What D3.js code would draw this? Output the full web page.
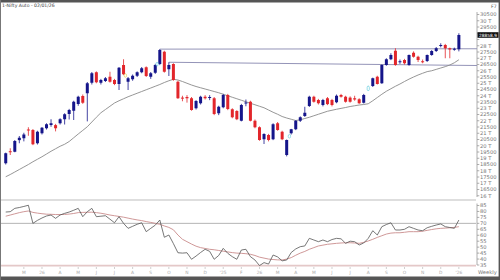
<!DOCTYPE html>
<html>
<head>
<meta charset="utf-8">
<script src="https://cdn.jsdelivr.net/npm/d3@7"></script>
<style>
  body { margin: 0; background: #fff; }
  svg { display: block; font-family: "DejaVu Sans", sans-serif; }
</style>
</head>
<body>
<div id="chart"></div>
<script>
// weekly candles, Nifty Auto, ~Feb 2024 .. Jan 2026 (index 0..100)
const opens = [18600,19560,19520,20450,20600,21300,21260,20200,21000,21400,
  21660,21650,21800,22120,22540,22800,23340,23980,24200,25040,
  25880,25040,25180,25520,25260,24940,26460,25120,25320,25600,
  25880,26280,25520,25840,26540,27520,26120,26540,25120,23850,
  23900,23800,23000,23400,23920,23850,23800,22600,23080,24060,
  22920,22780,22000,23400,23520,22000,21480,20520,20860,20520,
  21800,21120,19260,21000,21320,22000,22380,23180,23920,23660,
  23260,23800,23660,23480,24060,23920,23850,23800,23720,23440,
  24420,24780,25520,25000,26460,26920,27600,26700,26860,26460,
  27440,27120,26760,26780,27260,27580,27980,28060,27800,27700,
  27720];
const highs = [19450,19800,20460,20780,21040,21480,21340,21200,21500,21800,
  22120,21750,22200,22600,22950,23600,24000,24100,25100,25900,
  25950,25350,25500,25920,25350,26300,26920,25500,25700,25950,
  26300,26350,25900,26550,27740,27600,26680,26600,25200,24000,
  24050,23900,23650,24000,24050,24050,23900,23200,24150,24150,
  23000,22850,23350,23700,23600,22100,21550,21000,20950,21800,
  21900,21200,20500,21350,22050,22350,23120,24000,24000,23750,
  23750,23900,23750,24100,24150,24000,23950,24000,23800,24150,
  24800,25450,25600,26500,27000,27400,27800,26900,26950,27300,
  27550,27200,26900,27300,27650,27900,28200,28150,27850,27850,
  29000];
const lows = [18500,19260,19480,20200,20350,20800,20050,20100,20900,21300,
  21520,21150,21700,21700,22100,22060,23200,23350,21950,24900,
  25000,24900,25100,25050,24850,24460,25650,24460,25200,25500,
  25800,25500,25350,25750,26450,25850,25580,25200,23750,23560,
  23450,22800,22900,23300,23700,23650,22450,22450,23000,22850,
  22200,22050,21950,23160,21950,21400,20400,20140,20350,20450,
  21200,20450,19150,20900,21250,21900,22300,23100,23450,23300,
  23150,23250,23150,23400,23850,23450,23450,23600,23350,23380,
  24380,24700,24900,24950,26400,26850,26400,26550,26500,26400,
  27050,26700,26600,26700,27200,27500,27870,27000,27000,27600,
  27550];
const closes = [19400,19500,20380,20640,20900,21250,20120,21120,21440,21720,
  21800,21400,22120,22520,22860,23520,23920,23440,25000,25800,
  25080,25260,25400,25120,24940,26240,25720,25400,25600,25880,
  26200,25580,25800,26460,27660,25920,26460,25260,23800,23800,
  23800,22860,23580,23920,23800,23900,22540,23120,24060,22940,
  22280,22120,23260,23460,22000,21480,20460,20940,20460,21720,
  21260,20520,20460,21320,22000,22280,22640,23920,23520,23400,
  23660,23330,23260,24000,23920,23520,23520,23700,23400,24060,
  24760,25400,24940,26460,26920,27260,26460,26760,26600,27260,
  27120,26860,26700,27260,27580,27800,28060,27800,27700,27760,
  28860];
const hollowWeeks = [80];

// moving average (grey line)
const maValues = [17520,17700,17900,18100,18300,18500,18720,18920,19120,19340,
  19560,19760,19960,20120,20340,20640,20940,21230,21520,21900,
  22280,22640,22900,23160,23420,23600,23760,23920,24060,24200,
  24340,24480,24620,24760,24900,25060,25200,25316,25260,25140,
  25000,24860,24740,24640,24540,24440,24340,24240,24120,24000,
  23880,23760,23640,23520,23400,23280,23160,23040,22860,22680,
  22520,22340,22220,22120,22020,22080,22180,22280,22400,22520,
  22640,22760,22840,22920,22990,23060,23140,23200,23260,23300,
  23360,23600,23860,24120,24360,24560,24760,24940,25140,25330,
  25500,25660,25800,25930,26000,26110,26220,26330,26460,26640,
  26880];

// RSI and its average
const rsiValues = [79.5,79.8,82.6,83.3,84.2,85.2,70.0,72.5,74.5,76.2,
  77.0,74.2,77.0,78.4,79.5,81.0,82.6,75.6,79.8,82.6,
  75.6,76.0,76.4,73.5,70.5,75.6,70.0,65.8,67.5,69.2,
  70.5,63.0,65.8,68.5,72.8,58.3,60.2,53.0,45.3,45.0,
  45.3,39.8,42.5,45.5,48.2,46.5,39.8,43.0,49.0,44.8,
  42.0,39.8,47.6,48.2,42.0,39.2,34.5,37.0,35.8,43.4,
  41.8,38.5,39.2,45.5,48.5,50.4,51.0,57.4,56.0,54.6,
  56.0,54.6,56.4,57.4,57.0,53.2,55.0,54.6,51.8,53.5,
  57.4,63.8,60.2,67.2,69.0,70.5,64.4,64.4,65.0,67.2,
  65.8,64.4,63.8,66.3,67.5,68.6,69.5,67.2,66.5,65.8,
  72.8];
const rsiAvg = [76.0,77.0,78.0,79.0,79.8,80.4,79.2,78.6,78.1,77.7,
  77.6,77.4,77.4,77.5,77.8,78.3,79.0,79.2,79.3,79.4,
  79.0,78.5,77.8,77.0,76.4,75.8,75.2,74.4,73.6,72.9,
  72.3,71.5,70.8,70.0,69.2,67.8,66.6,64.6,60.2,56.6,
  54.6,52.6,50.8,49.6,48.9,48.2,47.8,47.2,46.6,46.0,
  45.4,45.0,44.8,44.5,44.0,43.0,41.6,40.8,40.0,39.6,
  39.3,39.2,40.0,41.2,43.2,45.0,46.4,48.2,49.6,51.0,
  51.7,52.4,52.8,53.2,53.5,53.7,53.7,53.5,53.2,54.0,
  55.2,56.6,58.2,59.6,61.0,61.8,62.1,62.1,62.5,63.0,
  63.0,63.0,63.4,64.1,64.8,65.4,65.8,66.0,66.3,66.6,
  67.2];

// trend lines [week, price]
const resistTop = [[34, 27730], [104, 27760]];
const resistLow = [[36, 26680], [104, 26420]];
// gap markers [week, price]
const gapMarks = [[26.4, 25620], [33.4, 26530], [62.6, 20760]];
const gapColors = ["#e6d050", "#6fd0e0", "#6fd0e0"];

// time axis labels (every 4 weeks)
const xLabelWeeks = [4,8,12,16,20,24,28,32,36,40,44,48,52,56,60,64,68,72,76,80,84,88,92,96,100];
const xLabelText = ["M","26","A","M","J","J","A","S","O","N","D","'25","F","26","M","A","M","J","J","A","S","O","N","D","'26"];

const priceTicks = d3.range(16000, 30501, 500);
const rsiTicks = d3.range(35, 86, 5);
const lastPriceText = "28858.9";

const W = 500, H = 280;
const svg = d3.select("#chart").append("svg")
  .attr("width", W).attr("height", H);

const x = d3.scaleLinear().domain([-1, 104]).range([1.2, 477]);
const y = d3.scaleLinear().domain([15740, 30700]).range([199, 12]);
const yr = d3.scaleLinear().domain([35, 85]).range([265, 205.5]);
const lastY = y(closes[closes.length - 1]);

// frame
svg.append("rect").attr("x", 0).attr("y", 0).attr("width", W).attr("height", 2.5).attr("fill", "#555");
svg.append("rect").attr("x", 0).attr("y", 276.5).attr("width", W).attr("height", 3.5).attr("fill", "#555");
svg.append("line").attr("x1", 0.5).attr("x2", 0.5).attr("y1", 0).attr("y2", H).attr("stroke", "#777");
svg.append("line").attr("x1", 499.3).attr("x2", 499.3).attr("y1", 0).attr("y2", H).attr("stroke", "#555").attr("stroke-width", 1.4);

svg.append("text").attr("x", 2).attr("y", 7.2)
  .attr("font-size", 4.6).attr("fill", "#444").text("1-Nifty Auto - 02/01/26");
svg.append("text").attr("x", 491).attr("y", 7.6)
  .attr("font-size", 4.6).attr("fill", "#555").text("F7");

// panel lines
svg.append("line").attr("x1", 1).attr("x2", 476).attr("y1", 200).attr("y2", 200)
  .attr("stroke", "#bdbdbd").attr("stroke-width", 1);
svg.append("line").attr("x1", 1).attr("x2", 476).attr("y1", yr(70)).attr("y2", yr(70))
  .attr("stroke", "#b4b4b4").attr("stroke-width", 1);
svg.append("line").attr("x1", 1).attr("x2", 476).attr("y1", yr(34.5)).attr("y2", yr(34.5))
  .attr("stroke", "#e4c8c8").attr("stroke-width", 1.6);

// right axes
const ax = svg.append("g").attr("stroke", "#999").attr("stroke-width", 0.8);
ax.append("line").attr("x1", 477).attr("x2", 477).attr("y1", 12).attr("y2", 197);
ax.append("line").attr("x1", 477).attr("x2", 477).attr("y1", 203.5).attr("y2", yr(35));
ax.selectAll(".pt").data(priceTicks).join("line")
  .attr("x1", 477).attr("x2", 479.3).attr("y1", d => y(d)).attr("y2", d => y(d));
ax.selectAll(".rt").data(rsiTicks).join("line").attr("class", "rt")
  .attr("x1", 477).attr("x2", 479.3).attr("y1", d => yr(d)).attr("y2", d => yr(d));

// labels hidden behind the last-price box are left out
svg.append("g").selectAll("text").data(priceTicks.filter(d => Math.abs(y(d) - lastY) > 5)).join("text")
  .attr("x", 480).attr("y", d => y(d)).attr("dy", "0.36em")
  .attr("font-size", 5.2).attr("fill", "#777")
  .text(d => d % 1000 === 0 ? (d / 1000) + " T" : d);
svg.append("g").selectAll("text").data(rsiTicks).join("text")
  .attr("x", 480).attr("y", d => yr(d)).attr("dy", "0.36em")
  .attr("font-size", 5.2).attr("fill", "#777")
  .text(d => d);

svg.append("text").attr("x", 478).attr("y", 273.5)
  .attr("font-size", 5.2).attr("fill", "#777").text("Weekly");

// x axis ticks & labels
svg.append("g").selectAll("line").data(xLabelWeeks).join("line")
  .attr("x1", d => x(d)).attr("x2", d => x(d)).attr("y1", 267).attr("y2", 269)
  .attr("stroke", "#bbb").attr("stroke-width", 0.7);
svg.append("g").selectAll("text").data(xLabelWeeks).join("text")
  .attr("x", d => x(d)).attr("y", 274).attr("text-anchor", "middle")
  .attr("font-size", 4.4).attr("fill", "#aaa")
  .text((d, i) => xLabelText[i]);

// trend lines
[resistTop, resistLow].forEach(seg => {
  svg.append("line")
    .attr("x1", x(seg[0][0])).attr("y1", y(seg[0][1]))
    .attr("x2", x(seg[1][0])).attr("y2", y(seg[1][1]))
    .attr("stroke", "#9494b8").attr("stroke-width", 1);
});

// moving average
const line = d3.line().x((d, i) => x(i)).y(d => y(d));
svg.append("path").attr("d", line(maValues))
  .attr("fill", "none").attr("stroke", "#8a8a8a").attr("stroke-width", 0.9);

// candles
const weeks = d3.range(opens.length);
const blue = "#15158a", red = "#e2262b", hollow = "#6fd0e0";
const colorOf = i => hollowWeeks.includes(i) ? hollow : (closes[i] >= opens[i] ? blue : red);
const cg = svg.append("g");
cg.selectAll("line").data(weeks).join("line")
  .attr("x1", i => x(i)).attr("x2", i => x(i))
  .attr("y1", i => y(highs[i])).attr("y2", i => y(lows[i]))
  .attr("stroke", i => colorOf(i)).attr("stroke-width", 0.8);
cg.selectAll("rect").data(weeks).join("rect")
  .attr("x", i => hollowWeeks.includes(i) ? x(i) - 1.1 : x(i) - 1.5)
  .attr("width", i => hollowWeeks.includes(i) ? 2.2 : 3)
  .attr("y", i => y(Math.max(opens[i], closes[i])))
  .attr("height", i => Math.max(1, Math.abs(y(opens[i]) - y(closes[i]))))
  .attr("rx", i => hollowWeeks.includes(i) ? 1 : 0)
  .attr("fill", i => hollowWeeks.includes(i) ? "#fff" : colorOf(i))
  .attr("stroke", i => hollowWeeks.includes(i) ? hollow : "none")
  .attr("stroke-width", 0.7);

svg.append("g").selectAll("ellipse").data(gapMarks).join("ellipse")
  .attr("cx", d => x(d[0])).attr("cy", d => y(d[1]))
  .attr("rx", 1.2).attr("ry", 1.8)
  .attr("fill", "none").attr("stroke", (d, i) => gapColors[i]).attr("stroke-width", 0.7);

// last price box
svg.append("rect").attr("x", 477.5).attr("y", lastY - 2.8).attr("width", 21).attr("height", 5.6).attr("fill", "#111");
svg.append("text").attr("x", 488).attr("y", lastY).attr("dy", "0.36em")
  .attr("text-anchor", "middle").attr("font-size", 4.3).attr("fill", "#fff").text(lastPriceText);

// RSI panel
const rline = d3.line().x((d, i) => x(i)).y(d => yr(d));
svg.append("path").attr("d", rline(rsiAvg))
  .attr("fill", "none").attr("stroke", "#c98c8c").attr("stroke-width", 0.9);
svg.append("path").attr("d", rline(rsiValues))
  .attr("fill", "none").attr("stroke", "#555").attr("stroke-width", 0.8);
</script>
</body>
</html>
